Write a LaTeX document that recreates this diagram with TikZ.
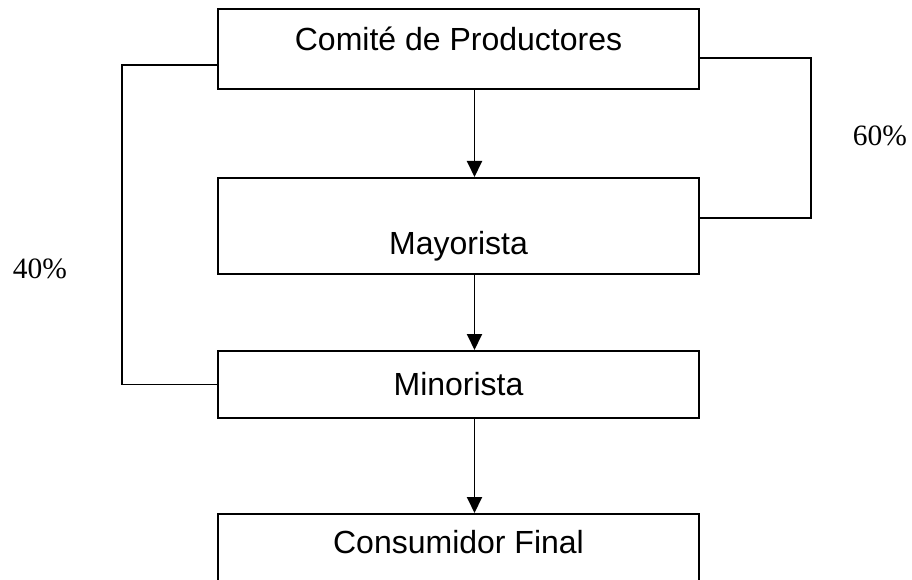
\documentclass[tikz,border=0pt]{standalone}
\usepackage{fontspec}
\setmainfont{Liberation Serif}
\newfontfamily\boxfont{Liberation Sans}
\usetikzlibrary{arrows.meta}
\tikzset{
  box/.style={draw, line width=1.9pt, rectangle, inner sep=0pt, minimum width=481pt,
    font=\boxfont\fontsize{32}{36}\selectfont, anchor=north},
  arr/.style={line width=1.9pt, -{Triangle[length=16pt,width=15pt]}},
  link/.style={line width=1.9pt},
  pct/.style={font=\fontsize{29.5}{34}\selectfont, anchor=base}
}
\begin{document}
\begin{tikzpicture}[x=1pt,y=-1pt]
\useasboundingbox (0,0) rectangle (912,580);
\clip (0,0) rectangle (912,580);
\node[box, minimum height=80pt, text height=23pt, text depth=19pt] (prod) at (458.5,8) {Comité de Productores};
\node[box, minimum height=96pt, text height=70pt, text depth=12pt] (mayo) at (458.5,177) {Mayorista};
\node[box, minimum height=67pt, text height=30pt, text depth=7pt] (mino) at (458.5,350) {Minorista};
\node[box, minimum height=100pt, text height=23pt, text depth=43pt] (cons) at (458.5,513) {Consumidor Final};
\draw[arr] ([xshift=16pt]prod.south) -- ([xshift=16pt]mayo.north);
\draw[arr] ([xshift=16pt]mayo.south) -- ([xshift=16pt]mino.north);
\draw[arr] ([xshift=16pt]mino.south) -- ([xshift=16pt]cons.north);
\draw[link] ([yshift=-57pt]prod.north west) -- ++(-95,0) |- (mino.west);
\draw[link] ([yshift=-50pt]prod.north east) -- ++(111,0) |- ([yshift=-41pt]mayo.north east);
\node[pct] (p60) at (880,146) {60\%};
\node[pct] (p40) at (40,278) {40\%};
\end{tikzpicture}
\end{document}
